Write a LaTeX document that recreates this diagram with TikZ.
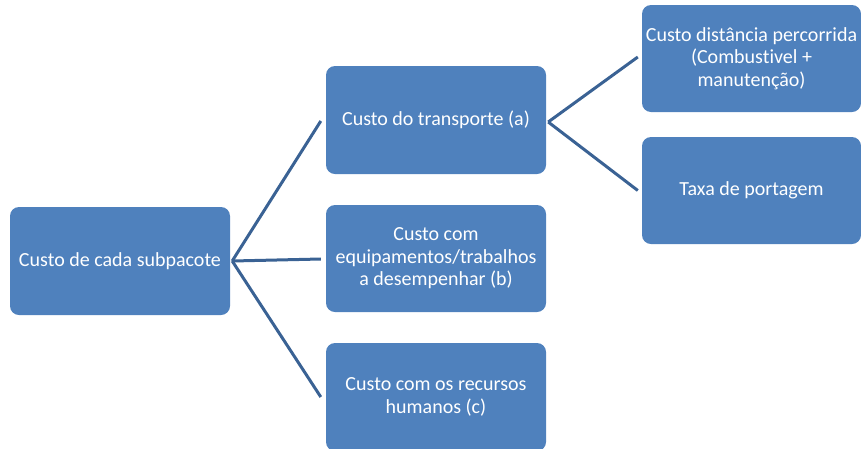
\documentclass[tikz,border=0pt]{standalone}
\usepackage{fontspec}
\setmainfont[Ligatures={NoCommon}]{Carlito}
\definecolor{boxblue}{RGB}{79,129,189}
\definecolor{lineblue}{RGB}{58,98,148}
\begin{document}
\begin{tikzpicture}[x=1pt,y=-1pt,
  box/.style={rectangle, rounded corners=9pt, fill=boxblue, draw=none,
    minimum width=220pt, minimum height=108pt, align=center,
    inner sep=0pt, text=white, font=\fontsize{20}{22.5}\selectfont},
  conn/.style={draw=lineblue, line width=3pt}]
\useasboundingbox (0,0) rectangle (861,448);
\node[box] (root) at (120,261) {Custo de cada subpacote};
\node[box] (a) at (436,120) {Custo do transporte (a)};
\node[box, minimum height=107pt] (b) at (436,258.5) {Custo com\\equipamentos/trabalhos\\a desempenhar (b)};
\node[box] (c) at (436,397) {Custo com os recursos\\humanos (c)};
\node[box, minimum width=219pt, minimum height=107pt] (d) at (751.5,58.5) {Custo distância percorrida\\(Combustivel +\\manutenção)};
\node[box, minimum width=219pt, minimum height=107pt] (e) at (751.5,190.5) {Taxa de portagem};
\draw[conn] ([xshift=2pt]root.east) -- ([xshift=-5pt,yshift=-1pt]a.west);
\draw[conn] ([xshift=2pt]root.east) -- ([xshift=-5pt,yshift=-0.5pt]b.west);
\draw[conn] ([xshift=2pt]root.east) -- ([xshift=-5pt]c.west);
\draw[conn] ([xshift=2pt,yshift=-2pt]a.east) -- ([xshift=-4pt,yshift=1.5pt]d.west);
\draw[conn] ([xshift=2pt,yshift=-2pt]a.east) -- ([xshift=-4pt]e.west);
\end{tikzpicture}
\end{document}
